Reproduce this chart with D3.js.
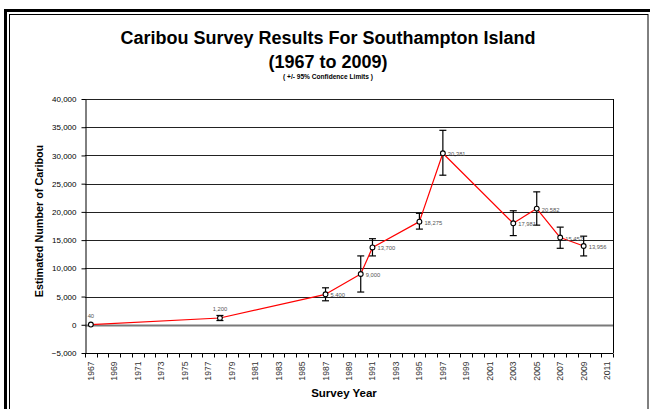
<!DOCTYPE html>
<html>
<head>
<meta charset="utf-8">
<script src="https://cdn.jsdelivr.net/npm/d3@7/dist/d3.min.js"></script>
<style>
  body { margin: 0; background: #fff; }
  svg { display: block; font-family: "Liberation Sans", Arial, sans-serif; }
</style>
</head>
<body>
<script>
// survey data
var years     = [1967, 1978, 1987, 1990, 1991, 1995, 1997, 2003, 2005, 2007, 2009];
var estimates = [40, 1200, 5400, 9000, 13700, 18275, 30381, 17981, 20582, 15452, 13956];
var lower     = [40, 750, 4250, 5800, 12200, 16950, 26500, 15800, 17650, 13550, 12200];
var upper     = [40, 1650, 6550, 12200, 15250, 19750, 34450, 20200, 23550, 17300, 15700];
var pointLabels = ["40", "1,200", "5,400", "9,000", "13,700", "18,275", "30,381", "17,981", "20,582", "15,452", "13,956"];
var labelSide = ["top", "top", "right", "right", "right", "right", "right", "right", "right", "right", "right"];
var yTicks = [-5000, 0, 5000, 10000, 15000, 20000, 25000, 30000, 35000, 40000];
var firstYear = 1967, lastYear = 2011;

(function(){
  const W = 650, H = 409;
  const PLOT = { left: 85, right: 613, top: 99, bottom: 353 };

  var svg = d3.select('body').append('svg')
    .attr('width', W).attr('height', H);

  // outer frame (double line)
  svg.append('rect').attr('x', 5.5).attr('y', 10.5).attr('width', 646).attr('height', 420)
    .attr('fill', 'none').attr('stroke', '#000').attr('stroke-width', 3);
  svg.append('rect').attr('x', 9.5).attr('y', 14.5).attr('width', 638.5).attr('height', 410)
    .attr('fill', 'none').attr('stroke', '#000').attr('stroke-width', 1);

  // titles
  svg.append('text').attr('x', 328).attr('y', 44).attr('text-anchor', 'middle')
    .attr('font-size', 18).attr('font-weight', 'bold')
    .text('Caribou Survey Results For Southampton Island');
  svg.append('text').attr('x', 328).attr('y', 68).attr('text-anchor', 'middle')
    .attr('font-size', 18).attr('font-weight', 'bold')
    .text('(1967 to 2009)');
  svg.append('text').attr('x', 328).attr('y', 79).attr('text-anchor', 'middle')
    .attr('font-size', 6.6).attr('font-weight', 'bold')
    .text('( +/- 95% Confidence Limits )');

  // scales
  var x = d3.scaleLinear().domain([firstYear - 0.5, lastYear + 0.5]).range([PLOT.left, PLOT.right]);
  var y = d3.scaleLinear().domain([yTicks[0], yTicks[yTicks.length - 1]]).range([PLOT.bottom, PLOT.top]);

  var g = svg.append('g');

  // gridlines
  g.selectAll('line.grid').data(yTicks.filter(function(d){ return d > yTicks[0]; }))
    .enter().append('line')
    .attr('class', 'grid')
    .attr('x1', PLOT.left).attr('x2', PLOT.right)
    .attr('y1', function(d){ return Math.round(y(d)) + 0.5; })
    .attr('y2', function(d){ return Math.round(y(d)) + 0.5; })
    .attr('stroke', function(d){ return d === 0 ? '#7a7a7a' : '#222'; })
    .attr('stroke-width', function(d){ return d === 0 ? 2 : 1; });

  // right border of plot
  g.append('line')
    .attr('x1', Math.round(PLOT.right) + 0.5).attr('x2', Math.round(PLOT.right) + 0.5)
    .attr('y1', PLOT.top).attr('y2', PLOT.bottom)
    .attr('stroke', '#000');

  // Y axis
  var yAxis = g.append('g')
    .attr('transform', 'translate(' + (PLOT.left + 0.5) + ',0)')
    .call(d3.axisLeft(y).tickValues(yTicks).tickSize(4).tickSizeOuter(0)
      .tickFormat(d3.format(',')));
  yAxis.select('.domain').attr('stroke', '#000');
  yAxis.selectAll('text').attr('font-size', 8).attr('fill', '#000')
    .attr('font-family', '"Liberation Sans", Arial, sans-serif').attr('dx', -2);

  // X axis: ticks between categories, labels every other year
  var boundaries = d3.range(firstYear - 0.5, lastYear + 1, 1);
  var labelYears = d3.range(firstYear, lastYear + 1, 2);
  var xAxis = g.append('g')
    .attr('transform', 'translate(0,' + (Math.round(PLOT.bottom) + 0.5) + ')');
  xAxis.append('line').attr('x1', PLOT.left).attr('x2', PLOT.right).attr('stroke', '#000');
  xAxis.selectAll('line.tick').data(boundaries).enter().append('line')
    .attr('class', 'tick')
    .attr('x1', function(d){ return Math.round(x(d)) + 0.5; })
    .attr('x2', function(d){ return Math.round(x(d)) + 0.5; })
    .attr('y1', 0).attr('y2', 4)
    .attr('stroke', '#000');
  xAxis.selectAll('text').data(labelYears).enter().append('text')
    .attr('transform', function(d){ return 'translate(' + (x(d) + 3) + ',8) rotate(-90)'; })
    .attr('text-anchor', 'end')
    .attr('font-size', 8.6)
    .attr('fill', '#333')
    .text(function(d){ return d; });

  // axis titles
  svg.append('text')
    .attr('transform', 'translate(43,221) rotate(-90)')
    .attr('text-anchor', 'middle').attr('font-size', 10.8).attr('font-weight', 'bold')
    .text('Estimated Number of Caribou');
  svg.append('text')
    .attr('x', 344).attr('y', 397).attr('text-anchor', 'middle')
    .attr('font-size', 11.5).attr('font-weight', 'bold')
    .text('Survey Year');

  var points = years.map(function(yr, i){
    return { year: yr, value: estimates[i], lo: lower[i], hi: upper[i], label: pointLabels[i], side: labelSide[i] };
  });

  // error bars
  var eb = g.selectAll('g.err').data(points.filter(function(d){ return d.hi > d.lo; }))
    .enter().append('g').attr('class', 'err');
  eb.append('line')
    .attr('x1', function(d){ return x(d.year); }).attr('x2', function(d){ return x(d.year); })
    .attr('y1', function(d){ return y(d.hi); }).attr('y2', function(d){ return y(d.lo); })
    .attr('stroke', '#000').attr('stroke-width', 1.2);
  eb.append('line')
    .attr('x1', function(d){ return x(d.year) - 3.5; }).attr('x2', function(d){ return x(d.year) + 3.5; })
    .attr('y1', function(d){ return y(d.hi); }).attr('y2', function(d){ return y(d.hi); })
    .attr('stroke', '#000').attr('stroke-width', 1.2);
  eb.append('line')
    .attr('x1', function(d){ return x(d.year) - 3.5; }).attr('x2', function(d){ return x(d.year) + 3.5; })
    .attr('y1', function(d){ return y(d.lo); }).attr('y2', function(d){ return y(d.lo); })
    .attr('stroke', '#000').attr('stroke-width', 1.2);

  // red line
  var line = d3.line()
    .x(function(d){ return x(d.year); })
    .y(function(d){ return y(d.value); });
  g.append('path').datum(points)
    .attr('fill', 'none').attr('stroke', '#ff0000').attr('stroke-width', 1.2)
    .attr('stroke-linejoin', 'round')
    .attr('d', line);

  // markers
  g.selectAll('circle.pt').data(points).enter().append('circle')
    .attr('class', 'pt')
    .attr('cx', function(d){ return x(d.year); })
    .attr('cy', function(d){ return y(d.value); })
    .attr('r', 2.4)
    .attr('fill', '#fff').attr('stroke', '#000').attr('stroke-width', 1.1);

  // data labels
  g.selectAll('text.lbl').data(points).enter().append('text')
    .attr('class', 'lbl')
    .attr('x', function(d){ return d.side === 'top' ? x(d.year) : x(d.year) + 5; })
    .attr('y', function(d){ return d.side === 'top' ? y(d.value) - 7 : y(d.value) + 3; })
    .attr('text-anchor', function(d){ return d.side === 'top' ? 'middle' : 'start'; })
    .attr('font-size', 5.8)
    .attr('fill', '#555')
    .text(function(d){ return d.label; });
})();
</script>
</body>
</html>
